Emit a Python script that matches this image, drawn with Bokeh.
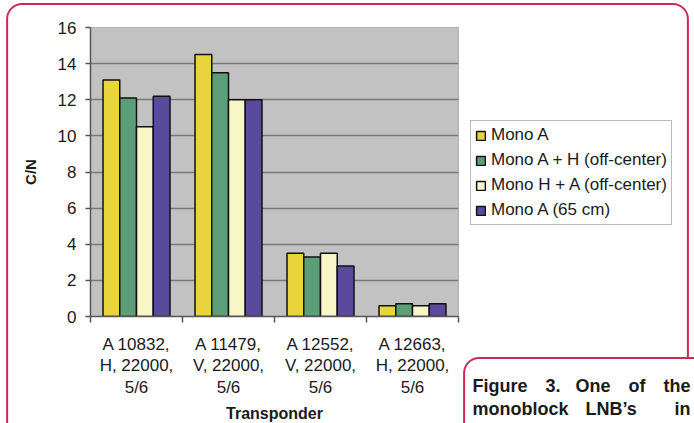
from bokeh.plotting import figure
from bokeh.models import (ColumnDataSource, FixedTicker, Legend, LegendItem, Label)
from bokeh.transform import dodge
from bokeh.embed import file_html
from bokeh.resources import INLINE

# ---- data ----
categories = ["A 10832,\nH, 22000,\n5/6", "A 11479,\nV, 22000,\n5/6",
              "A 12552,\nV, 22000,\n5/6", "A 12663,\nH, 22000,\n5/6"]
series_names = ["Mono A", "Mono A + H (off-center)", "Mono H + A (off-center)", "Mono A (65 cm)"]
mono_a = [13.1, 14.5, 3.5, 0.6]
mono_a_h = [12.1, 13.5, 3.3, 0.7]
mono_h_a = [10.5, 12.0, 3.5, 0.6]
mono_a_65 = [12.2, 12.0, 2.8, 0.7]
y_ticks = [0, 2, 4, 6, 8, 10, 12, 14, 16]
x_title = "Transponder"
y_title = "C/N"
caption_line1 = ["Figure", "3.", "One", "of", "the"]
caption_line2 = ["monoblock", "LNB\u2019s", "in"]

colors = ["#e8d43c", "#5c9e78", "#f8f5c6", "#5a4a9c"]
FONT = "Liberation Sans"
PINK = "#cc2a55"
TXT = "#1a1a1a"

centers = [i + 0.5 for i in range(len(categories))]
src = ColumnDataSource(dict(x=centers, s0=mono_a, s1=mono_a_h, s2=mono_h_a, s3=mono_a_65))

p = figure(width=694, height=423, frame_width=368, frame_height=289,
           x_range=(0, len(categories)), y_range=(0, 16),
           output_backend="svg", toolbar_location=None,
           min_border_left=90, min_border_right=236, min_border_top=27, min_border_bottom=107)

p.background_fill_color = "#c2c2c2"
p.border_fill_color = "white"
p.outline_line_color = "#b0b0b0"

bw = 0.182
offsets = [-1.5 * bw, -0.5 * bw, 0.5 * bw, 1.5 * bw]
renderers = []
for k in range(4):
    r = p.vbar(x=dodge("x", offsets[k]), top="s%d" % k, width=bw, bottom=0, source=src,
               fill_color=colors[k], line_color="#111111", line_width=1.5)
    renderers.append(r)

# grid
p.xgrid.visible = False
p.ygrid.grid_line_color = "#7a7a7a"
p.ygrid.grid_line_width = 1.5
p.ygrid.ticker = FixedTicker(ticks=y_ticks)

# y axis
p.yaxis.ticker = FixedTicker(ticks=y_ticks)
p.yaxis.axis_line_color = "#555555"
p.yaxis.axis_line_width = 1.5
p.yaxis.major_tick_out = 5
p.yaxis.major_tick_in = 0
p.yaxis.major_tick_line_color = "#555555"
p.yaxis.major_tick_line_width = 1.5
p.yaxis.minor_tick_line_color = None
p.yaxis.major_label_text_font = FONT
p.yaxis.major_label_text_font_size = "17px"
p.yaxis.major_label_text_color = TXT
p.yaxis.major_label_standoff = 9
p.yaxis.axis_label = y_title
p.yaxis.axis_label_text_font = FONT
p.yaxis.axis_label_text_font_style = "bold"
p.yaxis.axis_label_text_font_size = "15px"
p.yaxis.axis_label_text_color = TXT
p.yaxis.axis_label_standoff = 16

# x axis
p.xaxis.ticker = FixedTicker(ticks=centers, minor_ticks=list(range(len(categories) + 1)))
p.xaxis.major_label_overrides = {c: lab for c, lab in zip(centers, categories)}
p.xaxis.major_tick_line_color = None
p.xaxis.minor_tick_out = 6
p.xaxis.minor_tick_in = 0
p.xaxis.minor_tick_line_color = "#555555"
p.xaxis.minor_tick_line_width = 1.5
p.xaxis.axis_line_color = "#555555"
p.xaxis.axis_line_width = 1.5
p.xaxis.major_label_text_font = FONT
p.xaxis.major_label_text_font_size = "17px"
p.xaxis.major_label_text_color = TXT
p.xaxis.major_label_text_line_height = 1.15
p.xaxis.major_label_standoff = 12
p.xaxis.axis_label = x_title
p.xaxis.axis_label_text_font = FONT
p.xaxis.axis_label_text_font_style = "bold"
p.xaxis.axis_label_text_font_size = "16px"
p.xaxis.axis_label_text_color = TXT
p.xaxis.axis_label_standoff = 5

# legend (first in the right side panel)
legend = Legend(items=[LegendItem(label=n, renderers=[r]) for n, r in zip(series_names, renderers)],
                location=(12, 91), border_line_color="#777777", border_line_width=1.2,
                background_fill_color="white", background_fill_alpha=1.0,
                label_text_font=FONT, label_text_font_size="17px", label_text_color=TXT,
                glyph_width=11, glyph_height=11, label_standoff=5, spacing=5,
                padding=4, label_height=20)
p.add_layout(legend, "right")

# page decorations: outer pink frame and caption box (blank labels with borders)
outer = Label(x=347, y=451, x_units="canvas", y_units="canvas", text=" ",
              text_align="center", text_baseline="middle", text_font_size="10px",
              padding=dict(left=339, right=339, top=442, bottom=442),
              border_line_color=PINK, border_line_width=2, border_radius=(15, 15, 0, 0),
              background_fill_color=None)
p.add_layout(outer, "right")
cap = Label(x=681, y=628, x_units="canvas", y_units="canvas", text=" ",
            text_align="center", text_baseline="middle", text_font_size="10px",
            padding=dict(left=216, right=216, top=265, bottom=265),
            border_line_color=PINK, border_line_width=2, border_radius=(15, 0, 0, 0),
            background_fill_color="white")
p.add_layout(cap, "right")

xs1 = [472, 545, 575, 628, 690]
for w, x in zip(caption_line1, xs1):
    p.add_layout(Label(x=x, y=385, x_units="canvas", y_units="canvas", text=w,
                       text_font=FONT, text_font_style="bold", text_font_size="18px",
                       text_color=TXT, text_baseline="alphabetic",
                       text_align="right" if w == "the" else "left"), "right")
xs2 = [472, 585, 690]
for w, x in zip(caption_line2, xs2):
    p.add_layout(Label(x=x, y=408, x_units="canvas", y_units="canvas", text=w,
                       text_font=FONT, text_font_style="bold", text_font_size="18px",
                       text_color=TXT, text_baseline="alphabetic",
                       text_align="right" if w == "in" else "left"), "right")

open("out.html", "w").write(file_html(p, INLINE))
